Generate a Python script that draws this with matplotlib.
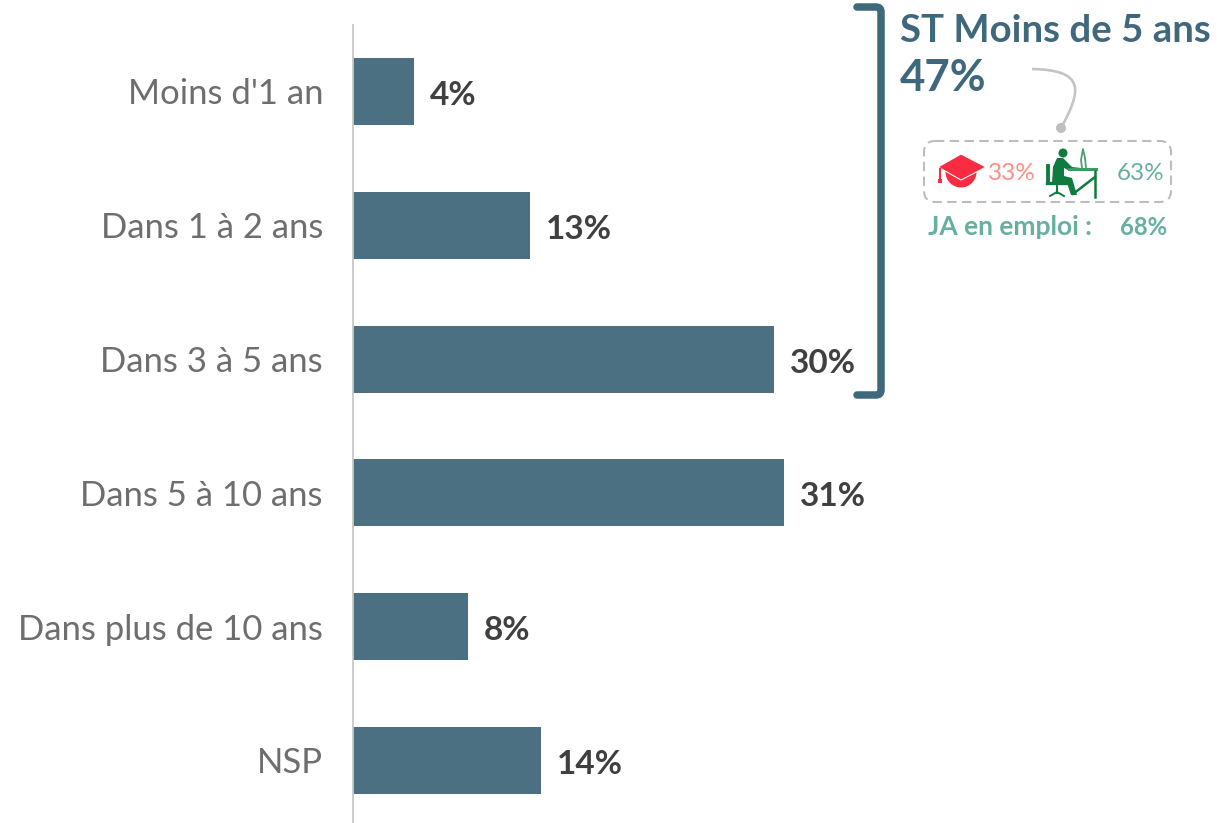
import matplotlib
matplotlib.use("Agg")
import matplotlib.pyplot as plt
from matplotlib.patches import Polygon, FancyBboxPatch, Circle, PathPatch, Rectangle, Wedge
from matplotlib.path import Path

categories = ["Moins d'1 an", "Dans 1 à 2 ans", "Dans 3 à 5 ans", "Dans 5 à 10 ans", "Dans plus de 10 ans", "NSP"]
values = [4.4, 12.7, 30.2, 30.9, 8.25, 13.5]
value_labels = ["4%", "13%", "30%", "31%", "8%", "14%"]

W, H = 1217, 823
FONT = "Lato"
plt.rcParams["font.family"] = [FONT, "DejaVu Sans"]
BAR = "#4A7082"
DARK = "#40687C"
TEAL = "#67AFA2"
fig = plt.figure(figsize=(W / 100, H / 100), dpi=100, facecolor="white")

# Bar axes: spans x 353..1217 px, y 25..823 px
ax = fig.add_axes([353 / W, 0, 864 / W, (H - 25) / H])
px_per_unit = 13.94
px_per_cat = 133.8
ax.set_xlim(0, 864 / px_per_unit)
ax.set_ylim((823 - 91.5) / px_per_cat, (25 - 91.5) / px_per_cat)
pos = list(range(len(categories)))
ax.barh(pos, values, height=0.5, color=BAR)
ax.set_yticks(pos, categories)
ax.tick_params(axis="y", length=0, pad=21.6, labelsize=24.9, labelcolor="#6E6E6E")
ax.set_xticks([])
for s in ["top", "right", "bottom"]:
    ax.spines[s].set_visible(False)
ax.spines["left"].set_color("#C8C8C8")
ax.spines["left"].set_linewidth(1.3)
ax.patch.set_alpha(0)
for y, v, l in zip(pos, values, value_labels):
    ax.annotate(l, (v, y), xytext=(16, -4), textcoords="offset pixels", va="center", ha="left",
                fontsize=24, fontweight="bold", color="#404040")

# Overlay in pixel coordinates for the decoration
ov = fig.add_axes([0, 0, 1, 1], facecolor="none")
ov.set_xlim(0, W)
ov.set_ylim(H, 0)
ov.axis("off")

# Bracket
ov.add_patch(PathPatch(Path([(857, 7), (876, 7), (881, 7), (881, 12), (881, 390), (881, 395), (876, 395), (857, 395)],
                            [1, 2, 3, 3, 2, 3, 3, 2]),
                       fill=False, ec=DARK, lw=5.4, capstyle="round"))

ov.text(900, 31, "ST Moins de 5 ans", fontsize=27.6, fontweight="bold", color=DARK, va="center", ha="left")
ov.text(900, 78, "47%", fontsize=31.5, fontweight="bold", color=DARK, va="center", ha="left")

# Connector
ov.add_patch(PathPatch(Path([(1032, 69), (1085, 70), (1082, 90), (1061, 128)], [1, 4, 4, 4]),
                       fill=False, ec="#C4C4C4", lw=1.9))
ov.add_patch(Circle((1061, 128), 5, fc="#BFBFBF", ec="none"))

# Dashed box
ov.add_patch(FancyBboxPatch((924, 141), 247, 61, boxstyle="round,pad=0,rounding_size=11", fill=False,
                            ec="#BDBDBD", lw=1.5, ls=(0, (4.5, 2.6))))

# Graduation cap
RED = "#FB2C42"
ov.add_patch(Wedge((961, 172), 15.5, 0, 180, fc=RED, ec="none"))
ov.add_patch(Polygon([(938, 167), (961, 154), (986, 167), (961, 180)], fc=RED, ec="white", lw=0.8))
ov.add_patch(Rectangle((939, 168), 2, 12, fc=RED, ec="none"))
ov.add_patch(Rectangle((938, 179), 4, 4, fc=RED, ec="none"))

# Person at desk
G = "#0F7B3F"
ov.add_patch(Circle((1063, 153), 4.5, fc=G, ec="none"))
ov.add_patch(Polygon([(1052, 183), (1053, 167), (1057, 158), (1063, 158), (1072, 167), (1081, 168), (1081, 171),
                      (1070, 171), (1064, 168), (1064, 176), (1072, 178), (1077, 195), (1071, 195), (1067, 183)],
                     fc=G, ec="none"))
ov.add_patch(Rectangle((1068, 168), 30, 3.2, fc="#3C9A63", ec="none"))
ov.plot([1095, 1095], [171, 197], color=G, lw=1.8)
ov.plot([1073, 1095], [194, 177], color=G, lw=1.8)
ov.plot([1082, 1081, 1083, 1085, 1086], [168, 160, 149, 158, 168], color="#4F9F75", lw=1.3)
ov.plot([1048, 1048], [166, 183], color=G, lw=2.8)
ov.plot([1047, 1066], [183, 183], color=G, lw=2.4)
ov.plot([1057, 1057], [184, 193], color=G, lw=1.4)
ov.plot([1050, 1057, 1064], [196, 192, 196], color=G, lw=1.4)

ov.text(988, 173, "33%", fontsize=17.5, color="#FF8E84", va="center", ha="left")
ov.text(1117, 173, "63%", fontsize=17.5, color=TEAL, va="center", ha="left")
ov.text(928, 227, "JA en emploi :", fontsize=19, fontweight="bold", color=TEAL, va="center", ha="left")
ov.text(1120, 227, "68%", fontsize=17.2, fontweight="bold", color=TEAL, va="center", ha="left")

fig.savefig("out.png", dpi=100)
